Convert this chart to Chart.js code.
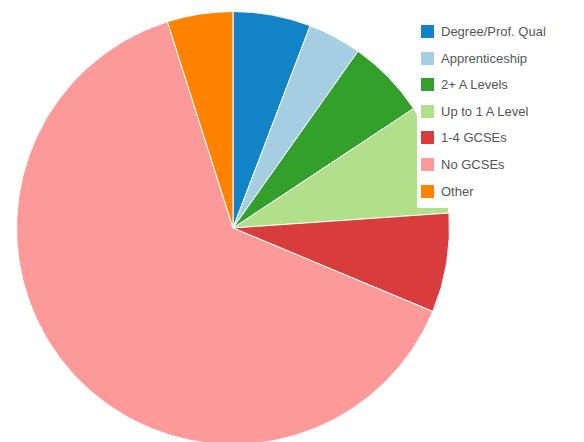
<!DOCTYPE html>
<html>
<head>
<meta charset="utf-8">
<script src="https://cdn.jsdelivr.net/npm/chart.js@4/dist/chart.umd.min.js"></script>
<style>
  html, body { margin: 0; padding: 0; width: 584px; height: 442px; overflow: hidden; background: #fff; }
  #wrap { position: absolute; left: 16px; top: 11px; width: 434px; height: 434px; }
  #legend { position: absolute; left: 417px; top: 16px; width: 167px; height: 192px; background: #fff;
            font-family: "Liberation Sans", Arial, sans-serif; font-size: 13px; color: #555; }
  .item { position: absolute; left: 4px; height: 14px; line-height: 14px; white-space: nowrap; }
  .box { display: inline-block; width: 13px; height: 13px; vertical-align: top; margin-right: 7px; }
</style>
</head>
<body>
<div id="wrap"><canvas id="c"></canvas></div>
<div id="legend"></div>
<script>
const categories = ["Degree/Prof. Qual", "Apprenticeship", "2+ A Levels", "Up to 1 A Level", "1-4 GCSEs", "No GCSEs", "Other"];
const values = [5.8, 4.0, 5.9, 8.2, 7.4, 63.8, 4.9];
const colors = ["#1283c6", "#a6cee3", "#33a02c", "#b2df8a", "#d83c3c", "#fb9a99", "#ff8300"];

new Chart(document.getElementById('c'), {
  type: 'pie',
  data: {
    labels: categories,
    datasets: [{ data: values, backgroundColor: colors, borderColor: '#fff', borderWidth: 1 }]
  },
  options: {
    responsive: true,
    maintainAspectRatio: false,
    animation: false,
    layout: { padding: 0 },
    plugins: { legend: { display: false }, tooltip: { enabled: false } }
  }
});

const legend = document.getElementById('legend');
categories.forEach((name, i) => {
  const d = document.createElement('div');
  d.className = 'item';
  d.style.top = (9 + i * 26.6) + 'px';
  const b = document.createElement('span');
  b.className = 'box';
  b.style.background = colors[i];
  d.appendChild(b);
  d.appendChild(document.createTextNode(name));
  legend.appendChild(d);
});
</script>
</body>
</html>
